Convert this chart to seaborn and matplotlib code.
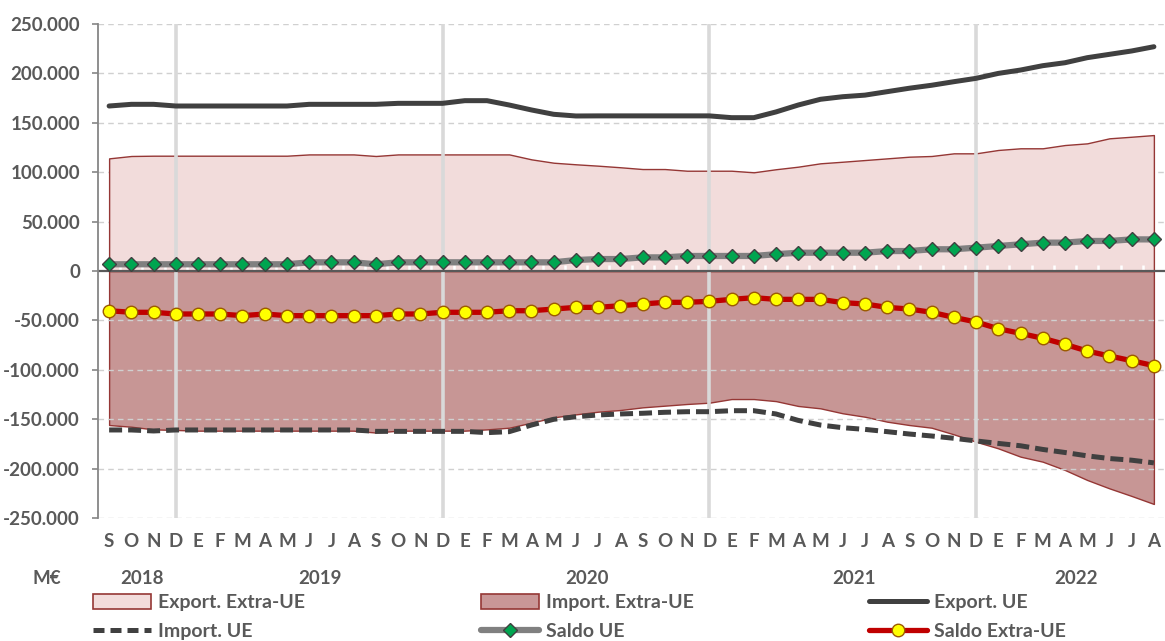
import numpy as np
import pandas as pd
import matplotlib
matplotlib.use("Agg")
import matplotlib.pyplot as plt
import matplotlib.transforms as mtransforms
from matplotlib.patches import Patch
from matplotlib.lines import Line2D
import seaborn as sns

# ---------------- data (M€) ----------------
months = ["S", "O", "N", "D"] + ["E", "F", "M", "A", "M", "J", "J", "A", "S", "O", "N", "D"] * 3 \
         + ["E", "F", "M", "A", "M", "J", "J", "A"]
years = ["2018", "2019", "2020", "2021", "2022"]
year_of_month = [2018] * 4 + [2019] * 12 + [2020] * 12 + [2021] * 12 + [2022] * 8

export_extra_ue = [114000, 116400, 116700, 116700, 116700, 116700, 116700, 116700, 116700,
                   118000, 118000, 118000, 116400, 118000, 118000, 118000, 118000, 118000, 118000,
                   113000, 109600, 108000, 106600, 105000, 103200, 103200, 101500, 101500, 101500,
                   99900, 103000, 105600, 109000, 110600, 112300, 114000, 115700, 116400, 119100,
                   119100, 122500, 124200, 124200, 127500, 129200, 134300, 135900, 137600]

import_extra_ue = [-155900, -157600, -160300, -160900, -161600, -161600, -161600, -161600,
                   -161600, -161600, -161600, -161600, -163500, -161600, -161600, -161600,
                   -161600, -160300, -158600, -153500, -148100, -145100, -142400, -140700,
                   -138000, -136300, -134600, -133300, -129600, -129600, -131700, -136600,
                   -139000, -144000, -147500, -152500, -155900, -158600, -165300, -172800,
                   -179500, -187900, -193000, -201400, -211500, -220000, -227700, -235800]

export_ue = [167000, 168700, 168700, 167000, 167000, 167000, 167000, 167000, 167000, 168700,
             168700, 168700, 168700, 169700, 169700, 169700, 172400, 172400, 168000, 163000,
             158600, 156900, 157000, 157000, 157000, 157000, 157000, 157000, 155200, 155200,
             161000, 168000, 173800, 176400, 178000, 181500, 185000, 188000, 191600, 195000,
             200000, 203400, 207800, 210800, 215900, 219300, 222700, 227000]

import_ue = [-160900, -160900, -161900, -160900, -160900, -160900, -160900, -160900, -160900,
             -160900, -160900, -160900, -162300, -162300, -162300, -162300, -162300, -163600,
             -162600, -155900, -150100, -147500, -145700, -144700, -144000, -143000, -142400,
             -142400, -141400, -141400, -144700, -151200, -155900, -158600, -160300, -162600,
             -165000, -167000, -169300, -172000, -174500, -176900, -180600, -183700, -187100,
             -189800, -191500, -194200]

saldo_ue = [6800, 6800, 6800, 6800, 6800, 6800, 6800, 6800, 6800, 8800, 8800, 8800, 6800,
            8800, 8800, 8800, 8800, 8800, 8800, 8800, 8800, 11100, 12100, 12100, 13800, 13800,
            15200, 15200, 15200, 15200, 17000, 18500, 18500, 18500, 18500, 20200, 20200, 22000,
            22000, 23600, 25300, 27000, 28700, 28700, 30400, 30400, 32000, 32000]

saldo_extra_ue = [-40200, -41800, -41800, -43500, -43500, -43500, -45200, -43500, -45200,
                  -45200, -45200, -45200, -45200, -43500, -43500, -41800, -41800, -41800,
                  -40200, -40200, -38500, -36800, -36800, -35100, -33400, -31700, -31700,
                  -30700, -28700, -27000, -28700, -28700, -28700, -32000, -33400, -36800,
                  -38500, -41800, -46900, -51600, -58400, -63100, -68100, -74200, -81000,
                  -86000, -90800, -95800]

labels = ["Export. Extra-UE", "Import. Extra-UE", "Export. UE",
          "Import. UE", "Saldo UE", "Saldo Extra-UE"]

# ---------------- style ----------------
sns.set_theme(style="white")
plt.rcParams["font.family"] = ["Lato", "DejaVu Sans"]
plt.rcParams["font.weight"] = "bold"
TXT = "#595959"

df = pd.DataFrame({
    "idx": np.arange(len(months)),
    "export_extra": export_extra_ue,
    "import_extra": import_extra_ue,
    "export_ue": export_ue,
    "import_ue": import_ue,
    "saldo_ue": saldo_ue,
    "saldo_extra": saldo_extra_ue,
})
x = df["idx"].to_numpy()

W, H = 1165, 641
fig = plt.figure(figsize=(W / 100, H / 100), dpi=100)
ax = fig.add_axes([98 / W, (H - 518) / H, (W - 98) / W, (518 - 24) / H])

# areas
ax.fill_between(x, 0, df["import_extra"], facecolor=(0.584, 0.216, 0.208, 0.52),
                edgecolor="#953735", linewidth=1.0, zorder=0.8)
ax.fill_between(x, 0, df["export_extra"], facecolor="#F2DCDB",
                edgecolor="#953735", linewidth=1.0, zorder=1.2)

# grid
ax.set_yticks(np.arange(-250000, 250001, 50000))
for yv in ax.get_yticks():
    if yv != 0:
        ax.axhline(yv, color="#d0d0d0", lw=1.0, ls=(0, (4, 3)), zorder=1.0)

# year separators (December)
dec_idx = [i for i, m in enumerate(months) if m == "D"]
for i in dec_idx:
    ax.axvline(i, color="#d9d9d9", lw=2.6, zorder=1.5)

# category tick marks on zero axis (white)
ax.vlines(x[:-1] + 0.5, 1000, 6000, color="white", lw=1.8, zorder=1.6)
ax.axhline(0, color="#595959", lw=1.6, zorder=1.7)

# lines
sns.lineplot(data=df, x="idx", y="export_ue", ax=ax, color="#404040", lw=3.6,
             legend=False, zorder=3, solid_capstyle="round")
sns.lineplot(data=df, x="idx", y="import_ue", ax=ax, color="#404040", lw=3.6,
             linestyle=(0, (2.6, 1.2)), legend=False, zorder=3)
sns.lineplot(data=df, x="idx", y="saldo_ue", ax=ax, color="#808080", lw=4.5,
             marker="D", markersize=7.5, markerfacecolor="#00A550",
             markeredgecolor="#404040", markeredgewidth=1.0, legend=False, zorder=4)
sns.lineplot(data=df, x="idx", y="saldo_extra", ax=ax, color="#C00000", lw=3.8,
             marker="o", markersize=9, markerfacecolor="#FFFF00",
             markeredgecolor="#9C5A00", markeredgewidth=1.0, legend=False, zorder=4)

# axes
ax.set_xlim(-0.5, len(months) - 0.5)
ax.set_ylim(-250000, 250000)
ax.set_xlabel("")
ax.set_ylabel("")
for s in ["top", "right", "bottom"]:
    ax.spines[s].set_visible(False)
ax.spines["left"].set_color("#868686")
ax.spines["left"].set_linewidth(1.3)
ax.spines["left"].set_zorder(2)

ax.yaxis.set_major_formatter(
    matplotlib.ticker.FuncFormatter(lambda v, p: f"{v:,.0f}".replace(",", ".")))
ax.tick_params(axis="y", direction="out", length=4, width=1.2, color="#868686",
               pad=9, labelsize=13.5, labelcolor=TXT, left=True)
ax.set_xticks(x)
ax.set_xticklabels(months)
ax.tick_params(axis="x", length=0, pad=11, labelsize=13.5, labelcolor=TXT)
for t in ax.get_xticklabels() + ax.get_yticklabels():
    t.set_fontweight("bold")

# years
trans = mtransforms.blended_transform_factory(ax.transData, ax.transAxes)
yr_arr = np.array(year_of_month)
for y in years:
    pos = x[yr_arr == int(y)]
    ax.text(pos.mean(), -(578 - 518) / 494, y, transform=trans, ha="center", va="center",
            fontsize=13.5, fontweight="bold", color=TXT)
fig.text(47 / W, 1 - 578 / H, "M€", ha="center", va="center", fontsize=13.5,
         fontweight="bold", color=TXT)

# legend
h_export_extra = Patch(facecolor="#F2DCDB", edgecolor="#953735", lw=1.2)
h_import_extra = Patch(facecolor="#C99797", edgecolor="#953735", lw=1.2)
h_export_ue = Line2D([], [], color="#404040", lw=3.6)
h_import_ue = Line2D([], [], color="#404040", lw=3.6, ls=(0, (2.2, 1.2)))
h_saldo_ue = Line2D([], [], color="#808080", lw=4.5, marker="D", markersize=7.5,
                    markerfacecolor="#00A550", markeredgecolor="#404040")
h_saldo_extra = Line2D([], [], color="#C00000", lw=3.8, marker="o", markersize=9,
                       markerfacecolor="#FFFF00", markeredgecolor="#9C5A00")

cols = [([h_export_extra, h_import_ue], [labels[0], labels[3]], 93),
        ([h_import_extra, h_saldo_ue], [labels[1], labels[4]], 481),
        ([h_export_ue, h_saldo_extra], [labels[2], labels[5]], 869)]
for hs, ls_, xp in cols:
    leg = fig.legend(hs, ls_, loc="upper left", bbox_to_anchor=(xp / W, 1 - 594 / H),
                     frameon=False, borderpad=0, borderaxespad=0, handlelength=3.0,
                     handleheight=0.8, handletextpad=0.35, labelspacing=0.62,
                     prop={"size": 14, "weight": "bold"})
    for t in leg.get_texts():
        t.set_color(TXT)

fig.savefig("out.png", dpi=100)
